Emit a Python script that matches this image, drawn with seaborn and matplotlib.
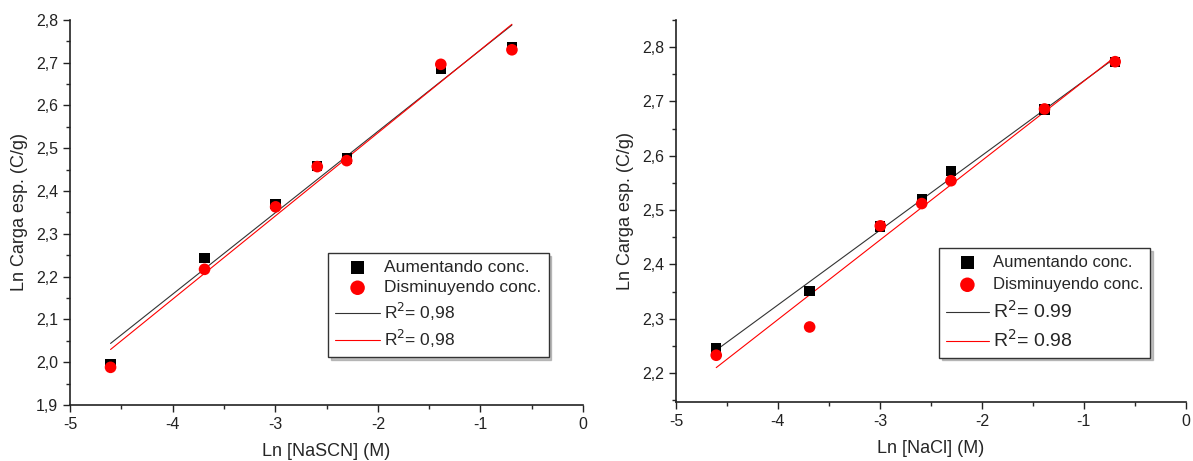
import numpy as np
import pandas as pd
import matplotlib
matplotlib.use("Agg")
import matplotlib.pyplot as plt
from matplotlib.ticker import MultipleLocator, FuncFormatter
import seaborn as sns

# ln of concentration (M)
ln_conc = [-4.605, -3.689, -2.996, -2.590, -2.303, -1.386, -0.693]

# NaSCN
nascn_up = [1.995, 2.243, 2.370, 2.458, 2.476, 2.685, 2.737]
nascn_down = [1.988, 2.217, 2.363, 2.457, 2.471, 2.696, 2.730]
nascn_r2 = ["0,98", "0,98"]

# NaCl
nacl_up = [2.246, 2.351, 2.470, 2.520, 2.572, 2.685, 2.773]
nacl_down = [2.233, 2.285, 2.471, 2.512, 2.554, 2.686, 2.773]
nacl_r2 = ["0.99", "0.98"]

sns.set_style("ticks")
plt.rcParams['font.family'] = ['Liberation Sans', 'DejaVu Sans']

fig = plt.figure(figsize=(11.93, 4.61), dpi=100)
ax1 = fig.add_axes([0.0587, 0.1215, 0.43, 0.8355])
ax2 = fig.add_axes([0.5666, 0.128, 0.4274, 0.829])

comma = FuncFormatter(lambda v, p: f"{v:.1f}".replace(".", ","))


def draw_panel(ax, up, down, r2, xlabel, ylim, legend_anchor,
               name_size, r2_size, spacing):
    df = pd.DataFrame({"x": ln_conc, "up": up, "down": down})
    sns.scatterplot(data=df, x="x", y="up", ax=ax, marker="s", color="black",
                    s=55, edgecolor="none", label="Aumentando conc.", zorder=3)
    sns.scatterplot(data=df, x="x", y="down", ax=ax, marker="o", color="red",
                    s=70, edgecolor="none", label="Disminuyendo conc.", zorder=4)
    sns.regplot(data=df, x="x", y="up", ax=ax, scatter=False, ci=None,
                color="black", line_kws={"lw": 0.8, "color": "#333333"},
                label=f"R$^2$= {r2[0]}")
    sns.regplot(data=df, x="x", y="down", ax=ax, scatter=False, ci=None,
                color="red", line_kws={"lw": 0.8, "color": "red"},
                label=f"R$^2$= {r2[1]}")

    ax.set_xlim(-5, 0)
    ax.set_ylim(*ylim)
    ax.xaxis.set_major_locator(MultipleLocator(1))
    ax.xaxis.set_minor_locator(MultipleLocator(0.5))
    ax.yaxis.set_major_locator(MultipleLocator(0.1))
    ax.yaxis.set_minor_locator(MultipleLocator(0.05))
    ax.yaxis.set_major_formatter(comma)
    ax.xaxis.set_major_formatter(FuncFormatter(lambda v, p: f"{v:.0f}"))
    ax.tick_params(which="major", direction="out", length=5, width=1,
                   labelsize=11.5, colors="#222222")
    ax.tick_params(which="minor", direction="out", length=3, width=1)
    for s in ["top", "right"]:
        ax.spines[s].set_visible(False)
    for s in ["left", "bottom"]:
        ax.spines[s].set_linewidth(1.2)
        ax.spines[s].set_color("#222222")
    ax.set_xlabel(xlabel, fontsize=13, labelpad=8)
    ax.set_ylabel("Ln Carga esp. (C/g)", fontsize=13, labelpad=6)

    # markers first, then fitted lines
    handles, labels = ax.get_legend_handles_labels()
    order = [labels.index(l) for l in ["Aumentando conc.", "Disminuyendo conc."]]
    order += [i for i in range(len(labels)) if i not in order]
    leg = ax.legend([handles[i] for i in order], [labels[i] for i in order],
                    loc="upper left", bbox_to_anchor=legend_anchor,
                    borderaxespad=0, fontsize=name_size, frameon=True,
                    fancybox=False, shadow={"color": "#999999", "alpha": 0.6},
                    edgecolor="#333333", handlelength=2.6, handletextpad=0.25,
                    labelspacing=spacing, borderpad=0.4, scatterpoints=1,
                    markerscale=1.25)
    leg.get_frame().set_linewidth(1.0)
    for t in leg.get_texts()[2:]:
        t.set_fontsize(r2_size)


draw_panel(ax1, nascn_up, nascn_down, nascn_r2, "Ln [NaSCN] (M)",
           (1.9, 2.8), (0.503, 0.395), 12.5, 12.5, 0.3)
draw_panel(ax2, nacl_up, nacl_down, nacl_r2, "Ln [NaCl] (M)",
           (2.147, 2.85), (0.516, 0.403), 12, 14, 0.45)

fig.savefig("out.png", dpi=100)
